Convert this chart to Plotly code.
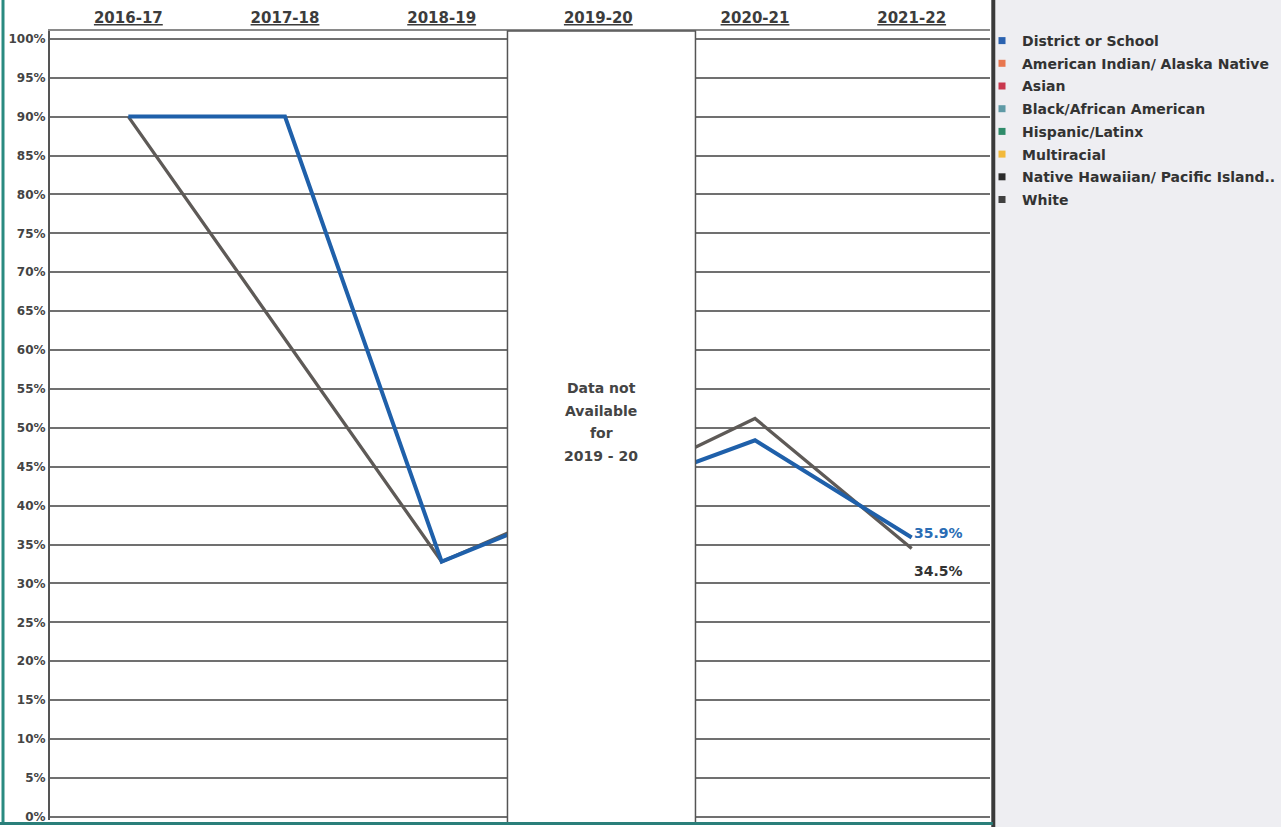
import plotly.graph_objects as go

# ---- data ----
years = ["2016-17", "2017-18", "2018-19", "2019-20", "2020-21", "2021-22"]
district = [90.0, 90.0, 32.8, 41.0, 48.4, 35.9]
white = [90.0, None, 32.8, 41.5, 51.2, 34.5]

legend_names = [
    "District or School",
    "American Indian/ Alaska Native",
    "Asian",
    "Black/African American",
    "Hispanic/Latinx",
    "Multiracial",
    "Native Hawaiian/ Pacific Island..",
    "White",
]
legend_colors = ["#2a62b0", "#e8764f", "#c9374e", "#5f9aa6",
                 "#2e8b6a", "#f2b93b", "#2b2b2b", "#404040"]

y_ticks = list(range(0, 101, 5))
missing_year = "2019-20"
missing_text = ["Data not", "Available", "for", "2019 - 20"]

BLUE = "#1f60aa"
GRAY = "#5e5a57"
FONT = "DejaVu Sans"

fig = go.Figure()

fig.add_trace(go.Scatter(
    x=years, y=white, mode="lines", connectgaps=True,
    line=dict(color=GRAY, width=3.3), showlegend=False, hoverinfo="skip"))
fig.add_trace(go.Scatter(
    x=years, y=district, mode="lines", connectgaps=True,
    line=dict(color=BLUE, width=4), showlegend=False, hoverinfo="skip"))

# legend-only entries
for i, (n, c) in enumerate(zip(legend_names, legend_colors)):
    fig.add_trace(go.Scatter(
        x=[None], y=[None], mode="markers", name=n, legendgroup=f"g{i}",
        marker=dict(symbol="square", size=7, color=c)))

# end labels
fig.add_annotation(x=years[-1], y=district[-1], text=f"{district[-1]:.1f}%",
                   showarrow=False, xanchor="left", xshift=0, yshift=5,
                   font=dict(family=FONT, size=14, color="#2a6db5", weight="bold"))
fig.add_annotation(x=years[-1], y=white[-1], text=f"{white[-1]:.1f}%",
                   showarrow=False, xanchor="left", xshift=0, yshift=-23,
                   font=dict(family=FONT, size=14, color="#333333", weight="bold"))

# white "not available" box
ci = years.index(missing_year)
fig.add_shape(type="rect", xref="x", yref="paper", x0=ci - 0.58, x1=ci + 0.62,
              y0=-0.004, y1=1.0, layer="above",
              fillcolor="white", line=dict(color="#555555", width=1.5))
for k, t in enumerate(missing_text):
    fig.add_annotation(x=ci, xshift=3, y=0.55, yref="paper", yshift=-k * 22.5 - 2,
                       text=t, showarrow=False,
                       font=dict(family=FONT, size=14, color="#444444", weight="bold"))

# frame pieces
fig.add_shape(type="rect", xref="paper", yref="paper", x0=1.0055, x1=1.32,
              y0=-0.02, y1=1.05, fillcolor="#eeeef2", line=dict(width=0), layer="below")
fig.add_shape(type="line", xref="paper", yref="paper", x0=1.0035, x1=1.0035,
              y0=-0.02, y1=1.05, line=dict(color="#3a3a3a", width=4))
fig.add_shape(type="line", xref="paper", yref="paper", x0=-0.05, x1=-0.05,
              y0=-0.004, y1=1.05, line=dict(color="#2a8a80", width=3))
fig.add_shape(type="line", xref="paper", yref="paper", x0=-0.055, x1=1.003,
              y0=-0.0045, y1=-0.0045, line=dict(color="#2a7f7a", width=3))

fig.update_layout(
    width=1281, height=827,
    margin=dict(l=50, r=291, t=31, b=7, autoexpand=False),
    paper_bgcolor="white", plot_bgcolor="white",
    font=dict(family=FONT, color="#444444"),
    legend=dict(x=0.9915, y=1.0076, xanchor="left", yanchor="top",
                bgcolor="rgba(0,0,0,0)", traceorder="grouped", tracegroupgap=1.5,
                font=dict(family=FONT, size=14, color="#333333", weight="bold")),
    xaxis=dict(type="category", categoryorder="array", categoryarray=years,
               range=[-0.5, 5.5], side="top", showgrid=False, ticks="",
               automargin=False,
               showline=True, linecolor="#8a8a8a", linewidth=2,
               tickfont=dict(family=FONT, size=15, color="#3c3c3c",
                             weight="bold", lineposition="under")),
    yaxis=dict(range=[-0.4, 101], tickvals=y_ticks,
               ticktext=[f"{v}%" for v in y_ticks],
               automargin=False,
               showgrid=True, gridcolor="#707070", gridwidth=2,
               zeroline=False, showline=True, linecolor="#555555", linewidth=2,
               ticks="",
               tickfont=dict(family=FONT, size=12, color="#444444", weight="bold")),
)

fig.write_html("out.html",
               config={"displayModeBar": False},
               post_script="document.body.style.margin='0px';"
                           "document.body.style.overflow='hidden';")
